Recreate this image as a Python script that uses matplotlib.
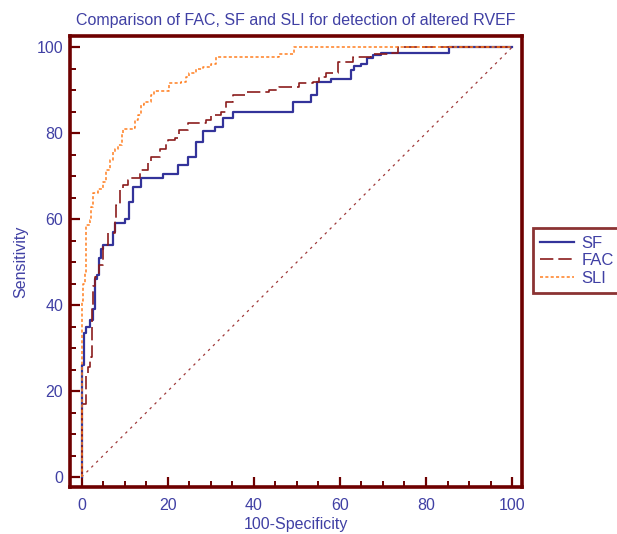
import matplotlib.pyplot as plt
from matplotlib.ticker import MultipleLocator

plt.rcParams['font.family'] = ['Liberation Sans', 'DejaVu Sans']

# ROC curves (100-specificity, sensitivity), top of each rise
sf_x = [0, 0, 0.5, 1.0, 1.9, 2.6, 3.0, 3.6, 4.0, 4.6, 5.0, 7.3, 7.7, 10.0, 11.1, 11.9,
        13.8, 18.9, 22.3, 24.6, 26.6, 28.1, 30.9, 32.8, 35.1, 49.0, 53.3, 54.6, 57.9,
        62.6, 63.3, 64.9, 66.4, 67.6, 69.5, 85.4, 100]
sf_y = [0, 26, 33.5, 35, 36.5, 39, 46, 47, 51, 53, 54, 57, 59, 60, 64, 67.5,
        69.5, 70.5, 72.5, 74.5, 78, 80.5, 81.5, 83.5, 85, 87.3, 88.8, 92, 92.7,
        94.8, 95.6, 96.2, 97.4, 98.1, 98.7, 100, 100]

fac_x = [0, 0, 1.1, 1.5, 1.9, 2.2, 2.4, 2.6, 3.0, 3.4, 4.0, 4.9, 6.1, 7.7, 8.0, 8.8,
         9.6, 10.7, 11.5, 13.5, 15.4, 16.2, 18.1, 19.7, 20.0, 21.6, 22.7, 24.7, 28.9,
         30.1, 32.4, 33.6, 35.1, 38.2, 43.6, 45.9, 50.6, 53.7, 55.2, 56.8, 59.5, 63.0,
         67.2, 72.2, 73.4, 100]
fac_y = [0, 17, 24, 25.7, 27.7, 28, 39, 44.5, 46.6, 47.4, 49.3, 54, 56.7, 60, 63.3, 66.7,
         68, 69, 69.5, 71.4, 73, 74.5, 76.4, 77.6, 78.4, 78.8, 80.7, 82.3, 83,
         84.2, 85, 87.3, 88.8, 89.6, 90, 90.8, 91.7, 91.9, 93.1, 93.9, 96.6, 97.7,
         98.5, 98.7, 100, 100]

sli_x = [0, 0, 0.3, 0.7, 1.1, 1.9, 2.2, 2.6, 3.8, 4.9, 5.7, 6.5, 7.3, 7.7, 8.4, 9.4,
         9.6, 11.9, 12.3, 13.1, 13.8, 14.6, 16.2, 16.9, 20.3, 23.1, 24.3, 25.0, 26.6,
         28.1, 30.1, 31.2, 45.9, 49.4, 100]
sli_y = [0, 41, 45, 47.5, 58.6, 59.8, 62.9, 66, 67.1, 68.7, 71.4, 73.7, 75.7, 76.4, 77.2, 79.9,
         80.9, 81.1, 83, 84.2, 86.5, 87.3, 88.8, 89.8, 91.7, 91.9, 93.1, 93.9, 95,
         95.4, 96.2, 97.7, 98.5, 100, 100]

ref_line = [0, 100]

txt = '#4040a4'
frame = '#6e0000'

fig = plt.figure(figsize=(6.17, 5.34), dpi=100)
ax = fig.add_axes([70/617, 47/534, 452/617, 451/534])

ax.plot(ref_line, ref_line, color='#a03a3a', lw=0.9, dashes=(2, 3.5))
ax.plot(sf_x, sf_y, drawstyle='steps-post', color='#33339a', lw=1.6, label='SF')
ax.plot(fac_x, fac_y, drawstyle='steps-post', color='#8b1c1c', lw=1.2, dashes=(8, 3), label='FAC')
ax.plot(sli_x, sli_y, drawstyle='steps-post', color='#ff7f20', lw=1.1, dashes=(2, 1.5), label='SLI')

ax.set_xlim(-2.7, 102.3)
ax.set_ylim(-2.3, 102.6)

ax.xaxis.set_major_locator(MultipleLocator(20))
ax.xaxis.set_minor_locator(MultipleLocator(5))
ax.yaxis.set_major_locator(MultipleLocator(20))
ax.yaxis.set_minor_locator(MultipleLocator(5))
ax.tick_params(which='major', direction='in', length=7, width=1.6, color=frame,
               labelcolor=txt, labelsize=11.5)
ax.tick_params(axis='x', which='major', pad=8)
ax.tick_params(axis='y', which='major', pad=5)
ax.tick_params(which='minor', direction='in', length=4.5, width=1.4, color=frame)

for s in ax.spines.values():
    s.set_color(frame)
    s.set_linewidth(2.6)

ax.set_title('Comparison of FAC, SF and SLI for detection of altered RVEF',
             color=txt, fontsize=11.5, pad=8)
ax.set_xlabel('100-Specificity', color=txt, fontsize=11.5, labelpad=3)
ax.set_ylabel('Sensitivity', color=txt, fontsize=11.5, labelpad=6)

leg = ax.legend(loc='upper left', bbox_to_anchor=(1.024, 0.574, 0.3, 0.0), mode='expand',
                frameon=True, fancybox=False, fontsize=12, handlelength=2.0,
                handletextpad=0.45, labelspacing=0.15, borderpad=0.45, borderaxespad=0)
leg.get_frame().set_edgecolor(frame)
leg.get_frame().set_linewidth(2)
for t in leg.get_texts():
    t.set_color(txt)

fig.savefig('out.png', dpi=100)
